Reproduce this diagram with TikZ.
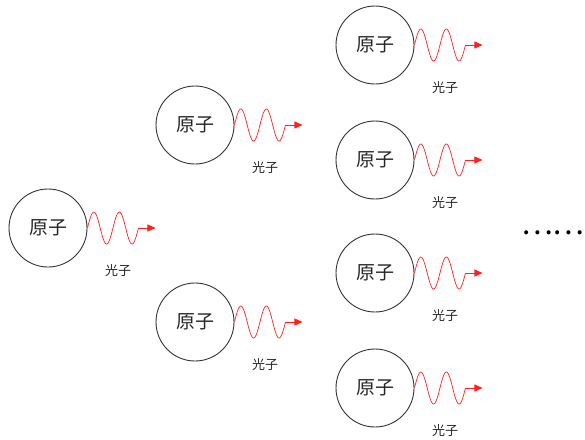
\documentclass[tikz,border=0pt]{standalone}
\usepackage{fontspec}
\newfontfamily\cjk{Noto Sans CJK SC}
\usetikzlibrary{arrows.meta}
\definecolor{ink}{HTML}{333333}
\definecolor{wavered}{HTML}{FF2020}
\tikzset{
  atom/.style={draw=ink, line width=0.9pt, circle, minimum size=78pt, inner sep=0pt,
    font=\cjk\fontsize{19}{19}\selectfont, text=black!85},
  photon/.style={draw=wavered, line width=0.7pt},
  tipline/.style={draw=wavered, line width=0.7pt, -{Triangle[length=8pt,width=7pt]}},
  plabel/.style={font=\cjk\fontsize{13}{13}\selectfont, text=black!85, inner sep=0pt}
}
\begin{document}
\begin{tikzpicture}[x=1pt,y=-1pt]
\useasboundingbox (0,0) rectangle (585,439);
\foreach \n/\px/\py in {a1/48/228, b1/195/125, b2/195/322, c1/375/45, c2/375/160, c3/375/273, c4/375/388}{
  \node[atom] (\n) at (\px,\py) {原子};
  \coordinate (\n w) at ([xshift=51pt]\n.east);
  \coordinate (\n t) at ([xshift=68pt]\n.east);
  \begin{scope}[shift={(\n.east)}]
    \draw[photon] plot[domain=0:51, samples=90, variable=\t] (\t, {-16*sin(\t/25.5*360)});
  \end{scope}
  \draw[tipline] (\n w) -- (\n t);
  \node[plabel] (\n l) at (\px+70,\py+43) {光子};
}
\node[font=\cjk\fontsize{30}{30}\selectfont, inner sep=0pt, anchor=west] (dots) at (521,233) {……};
\end{tikzpicture}
\end{document}
